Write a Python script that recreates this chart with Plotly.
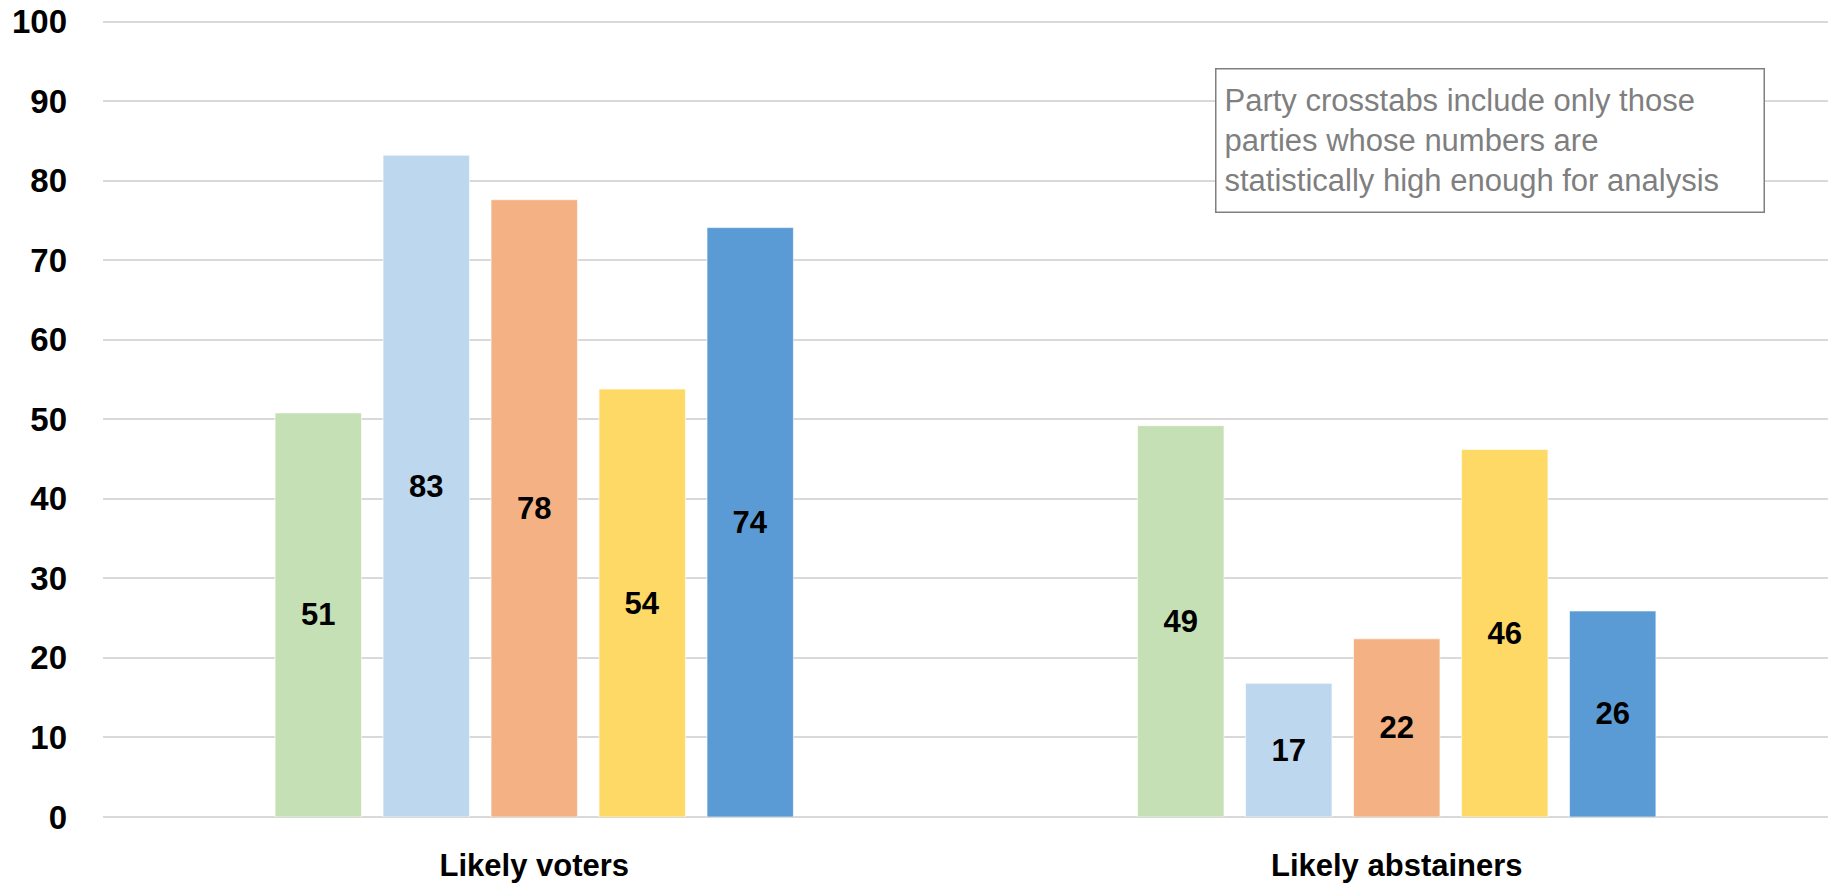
import plotly.graph_objects as go

categories = ["Likely voters", "Likely abstainers"]
series_names = ["Party 1", "Party 2", "Party 3", "Party 4", "Party 5"]
series_values = [
    [50.8, 49.2],
    [83.2, 16.8],
    [77.6, 22.4],
    [53.8, 46.2],
    [74.1, 25.9],
]
series_colors = ["#C5E0B4", "#BDD7EE", "#F4B183", "#FFD966", "#5B9BD5"]
y_ticks = [0, 10, 20, 30, 40, 50, 60, 70, 80, 90, 100]
note_text = ("Party crosstabs include only those<br>"
             "parties whose numbers are<br>"
             "statistically high enough for analysis")

FONT = "Liberation Sans, Arial, sans-serif"

fig = go.Figure()
for name, vals, col in zip(series_names, series_values, series_colors):
    fig.add_trace(go.Bar(
        name=name,
        x=categories,
        y=vals,
        marker=dict(color=col, line=dict(color="rgba(255,255,255,0.6)", width=1)),
        text=[f"{round(v):d}" for v in vals],
        textposition="inside",
        insidetextanchor="middle",
        textangle=0,
        textfont=dict(family=FONT, size=31, color="black", weight="bold"),
        constraintext="none",
        showlegend=False,
    ))

# plot area: x 103..1828, y 20..817 (px)
fig.update_layout(
    barmode="group",
    bargap=0.374,
    bargroupgap=0.2,
    width=1835,
    height=883,
    margin=dict(l=103, r=7, t=20, b=66, autoexpand=False),
    paper_bgcolor="white",
    plot_bgcolor="white",
    font=dict(family=FONT, color="black"),
    xaxis=dict(
        automargin=False,
        showgrid=False,
        tickfont=dict(family=FONT, size=31, color="black", weight="bold"),
        ticks="",
        ticklabelstandoff=27,
        ticklabeloverflow="allow",
        showline=False,
        zeroline=False,
    ),
    yaxis=dict(
        automargin=False,
        range=[0, 100.2],
        tickvals=y_ticks,
        showgrid=True,
        gridcolor="#D9D9D9",
        gridwidth=1.5,
        zeroline=True,
        zerolinecolor="#D9D9D9",
        zerolinewidth=1.5,
        showline=False,
        ticks="",
        ticklabelstandoff=35,
        ticklabeloverflow="allow",
        tickfont=dict(family=FONT, size=33, color="black", weight="bold"),
    ),
    annotations=[dict(
        text=note_text,
        xref="paper", yref="paper",
        x=(1215 - 103) / 1725, y=1 - (68 - 20) / 797,
        xanchor="left", yanchor="top",
        align="left",
        valign="middle",
        width=531,
        height=126,
        showarrow=False,
        font=dict(family=FONT, size=31, color="#7F7F7F"),
        bordercolor="#7F7F7F",
        borderwidth=1.5,
        borderpad=8,
        bgcolor="white",
    )],
)

fig.write_html(
    "out.html",
    config={"displayModeBar": False},
    post_script="document.body.style.margin='0';document.body.style.overflow='hidden';",
)
